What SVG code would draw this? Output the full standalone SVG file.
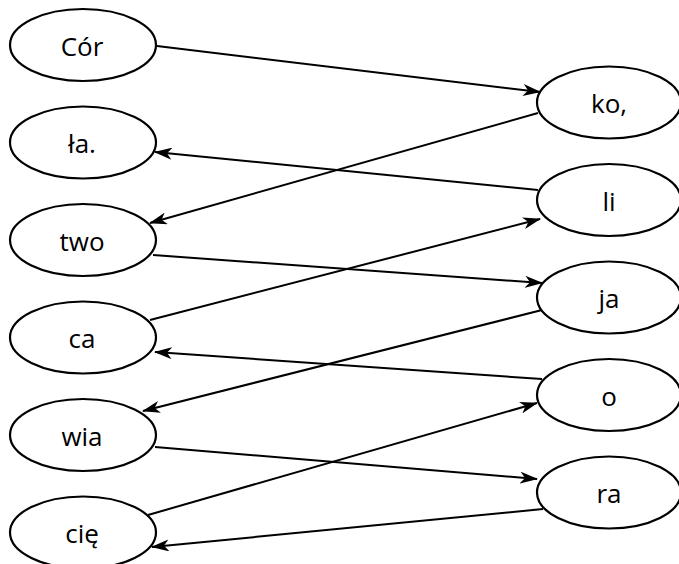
<svg xmlns="http://www.w3.org/2000/svg" width="679" height="564" viewBox="0 0 679 564">
<style>
.n ellipse{fill:#fff;stroke:#000;stroke-width:2.2}
.n text{font-family:"Open Sans","Noto Sans",sans-serif;font-size:26px;text-anchor:middle;fill:#000}
.e line{stroke:#000;stroke-width:2;marker-end:url(#a)}
</style>
<defs>
<marker id="a" viewBox="0 0 18 12" refX="17" refY="6" markerWidth="18" markerHeight="12" markerUnits="userSpaceOnUse" orient="auto">
<path d="M0,0 L18,6 L0,12 L5,6 z" fill="#000"/>
</marker>
</defs>
<g class="e" id="edges">
<line x1="157" y1="46" x2="540" y2="92"/>
<line x1="538" y1="113" x2="150" y2="223"/>
<line x1="538" y1="190" x2="155" y2="152"/>
<line x1="153" y1="255" x2="542" y2="283"/>
<line x1="150" y1="320" x2="540" y2="219"/>
<line x1="542" y1="310" x2="143" y2="411"/>
<line x1="542" y1="379" x2="155" y2="352"/>
<line x1="155" y1="447" x2="537" y2="479"/>
<line x1="148" y1="515" x2="537" y2="403"/>
<line x1="543" y1="509" x2="152" y2="547"/>
</g>
<g class="n" id="n_cor"><ellipse cx="83" cy="45" rx="73" ry="36"/><text x="82" y="55.5">Cór</text></g>
<g class="n" id="n_la"><ellipse cx="83" cy="142.5" rx="73" ry="36"/><text x="82" y="153">ła.</text></g>
<g class="n" id="n_two"><ellipse cx="83" cy="240" rx="73" ry="36"/><text x="82" y="250.5">two</text></g>
<g class="n" id="n_ca"><ellipse cx="83" cy="337.5" rx="73" ry="36"/><text x="82" y="348">ca</text></g>
<g class="n" id="n_wia"><ellipse cx="83" cy="435" rx="73" ry="36"/><text x="82" y="445.5">wia</text></g>
<g class="n" id="n_cie"><ellipse cx="83" cy="532.5" rx="73" ry="36"/><text x="82" y="543">cię</text></g>
<g class="n" id="n_ko"><ellipse cx="609" cy="102.5" rx="72" ry="36"/><text x="609" y="113">ko,</text></g>
<g class="n" id="n_li"><ellipse cx="609" cy="200" rx="72" ry="36"/><text x="609" y="210.5">li</text></g>
<g class="n" id="n_ja"><ellipse cx="609" cy="297.5" rx="72" ry="36"/><text x="609" y="308">ja</text></g>
<g class="n" id="n_o"><ellipse cx="609" cy="395" rx="72" ry="36"/><text x="609" y="405.5">o</text></g>
<g class="n" id="n_ra"><ellipse cx="609" cy="492.5" rx="72" ry="36"/><text x="609" y="503">ra</text></g>
</svg>
